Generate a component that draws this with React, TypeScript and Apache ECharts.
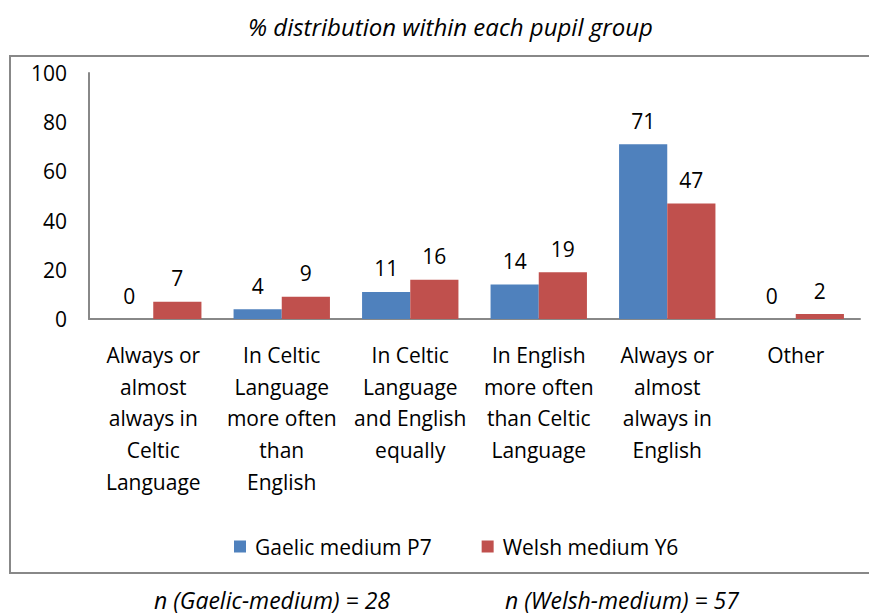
import React, { useEffect, useRef } from "react";
import * as echarts from "echarts";

const categories = [
  "Always or\nalmost\nalways in\nCeltic\nLanguage",
  "In Celtic\nLanguage\nmore often\nthan\nEnglish",
  "In Celtic\nLanguage\nand English\nequally",
  "In English\nmore often\nthan Celtic\nLanguage",
  "Always or\nalmost\nalways in\nEnglish",
  "Other",
];
const gaelic = [0, 4, 11, 14, 71, 0];
const welsh = [7, 9, 16, 19, 47, 2];
const yTicks = { min: 0, max: 100, interval: 20 };
const titleText = "% distribution within each pupil group";
const noteGaelic = "n (Gaelic-medium) = 28";
const noteWelsh = "n (Welsh-medium) = 57";

const FONT = "'Open Sans', 'Noto Sans', sans-serif";

export default function App() {
  const ref = useRef<HTMLDivElement>(null);
  useEffect(() => {
    if (!ref.current) return;
    const chart = echarts.init(ref.current, null, { renderer: "svg" });
    const labelStyle = {
      show: true,
      position: "top" as const,
      distance: 13,
      color: "#000",
      fontSize: 21,
      fontFamily: FONT,
    };
    const noteStyle = {
      align: "center" as const,
      verticalAlign: "middle" as const,
      fontSize: 23,
      fontStyle: "italic" as const,
      fontFamily: FONT,
      fill: "#000",
    };
    chart.setOption({
      animation: false,
      backgroundColor: "#fff",
      textStyle: { fontFamily: FONT },
      title: {
        text: titleText,
        left: 243,
        top: 9,
        textStyle: {
          fontSize: 24,
          fontStyle: "italic",
          fontWeight: "normal",
          color: "#000",
          fontFamily: FONT,
        },
      },
      graphic: [
        {
          type: "rect",
          shape: { x: 10, y: 56, width: 880, height: 517 },
          style: { fill: "none", stroke: "#888", lineWidth: 2 },
          silent: true,
          z: -1,
        },
        {
          type: "text",
          style: { ...noteStyle, text: noteGaelic, x: 272, y: 600 },
        },
        {
          type: "text",
          style: { ...noteStyle, text: noteWelsh, x: 622, y: 600 },
        },
      ],
      legend: {
        data: ["Gaelic medium P7", "Welsh medium Y6"],
        left: 229,
        top: 531,
        itemWidth: 12,
        itemHeight: 12,
        itemGap: 50,
        icon: "rect",
        textStyle: {
          fontSize: 21,
          color: "#000",
          fontFamily: FONT,
          padding: [0, 0, 0, 4],
        },
      },
      grid: { left: 89, right: 9, top: 73, bottom: 297 },
      xAxis: {
        type: "category",
        data: categories,
        axisLine: { lineStyle: { color: "#888", width: 2 } },
        axisTick: { show: false },
        axisLabel: {
          interval: 0,
          color: "#000",
          fontSize: 21,
          lineHeight: 31.7,
          margin: 20,
          fontFamily: FONT,
        },
      },
      yAxis: {
        type: "value",
        min: yTicks.min,
        max: yTicks.max,
        interval: yTicks.interval,
        axisLine: { show: true, lineStyle: { color: "#888", width: 2 } },
        axisTick: { show: false },
        splitLine: { show: false },
        axisLabel: { color: "#000", fontSize: 21, margin: 22, fontFamily: FONT },
      },
      series: [
        {
          name: "Gaelic medium P7",
          type: "bar",
          data: gaelic,
          barGap: "0%",
          barCategoryGap: "25%",
          itemStyle: { color: "#4F81BD" },
          label: labelStyle,
        },
        {
          name: "Welsh medium Y6",
          type: "bar",
          data: welsh,
          barGap: "0%",
          barCategoryGap: "25%",
          itemStyle: { color: "#C0504D" },
          label: labelStyle,
        },
      ],
    });
    return () => chart.dispose();
  }, []);
  return (
    <div
      ref={ref}
      style={{ position: "fixed", left: 0, top: 0, width: 869, height: 616 }}
    />
  );
}
